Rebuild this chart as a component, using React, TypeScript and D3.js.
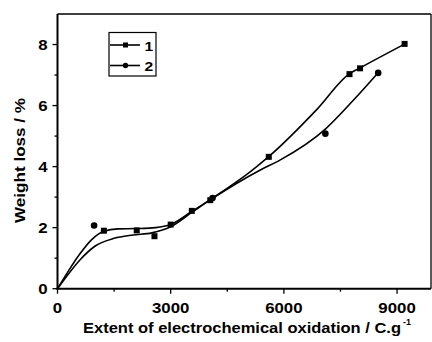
import React from "react";
import * as d3 from "d3";

const xTicks = [0, 3000, 6000, 9000];
const xMinorTicks = [1500, 4500, 7500];
const yTicks = [0, 2, 4, 6, 8];
const yMinorTicks = [1, 3, 5, 7];

const series1X = [1230, 2100, 2570, 3000, 3560, 4050, 5600, 7740, 8020, 9200];
const series1Y = [1.9, 1.91, 1.72, 2.1, 2.55, 2.9, 4.32, 7.03, 7.22, 8.02];
const series2X = [970, 4110, 7100, 8500];
const series2Y = [2.07, 2.97, 5.08, 7.07];

const fit1X = [0, 300, 600, 900, 1230, 1600, 2100, 2600, 3000, 3560, 4050, 5140, 5620, 6864, 7735, 8015, 9210];
const fit1Y = [0, 0.6, 1.15, 1.6, 1.88, 1.96, 1.97, 2.0, 2.1, 2.53, 2.92, 3.86, 4.35, 5.86, 7.04, 7.23, 8.02];
const fit2X = [0, 300, 600, 1000, 1500, 2000, 2500, 3000, 3560, 4100, 5376, 5907, 7100, 7853, 8500];
const fit2Y = [0, 0.5, 0.95, 1.4, 1.65, 1.76, 1.83, 2.03, 2.5, 2.95, 3.89, 4.22, 5.23, 6.19, 7.08];

const legendLabels = ["1", "2"];
const yLabel = "Weight loss / %";
const xLabel = "Extent of electrochemical oxidation / C.g";

export default function App() {
  const left = 57.5, right = 431, top = 14, bottom = 288.7;
  const x = d3.scaleLinear().domain([0, 9900]).range([left, right]);
  const y = d3.scaleLinear().domain([0, 9]).range([bottom, top]);
  const line = d3
    .line<[number, number]>()
    .x((d) => x(d[0]))
    .y((d) => y(d[1]))
    .curve(d3.curveMonotoneX);
  const f1 = fit1X.map((v, i) => [v, fit1Y[i]] as [number, number]);
  const f2 = fit2X.map((v, i) => [v, fit2Y[i]] as [number, number]);
  const font = "'Liberation Sans', Arial, sans-serif";
  return (
    <svg
      width={432}
      height={342}
      style={{ position: "absolute", left: 0, top: 0, background: "#fff" }}
      fontFamily={font}
    >
      <rect x={0} y={0} width={432} height={342} fill="#fff" />
      {/* frame */}
      <line x1={left} x2={right} y1={top} y2={top} stroke="#000" strokeWidth={1.3} />
      <line x1={right} x2={right} y1={top} y2={bottom} stroke="#000" strokeWidth={1.3} />
      <line x1={left} x2={left} y1={top} y2={bottom + 1} stroke="#000" strokeWidth={2} />
      <line x1={left - 1} x2={right} y1={bottom} y2={bottom} stroke="#000" strokeWidth={2} />
      {/* x ticks */}
      {xTicks.map((t) => (
        <g key={"xt" + t}>
          <line x1={x(t)} x2={x(t)} y1={bottom} y2={bottom + 5} stroke="#000" strokeWidth={1.3} />
          <text
            transform={`translate(${x(t)}, ${bottom + 24.5}) scale(1.2, 1)`}
            textAnchor="middle"
            fontSize={14}
            fontWeight="bold"
          >
            {t}
          </text>
        </g>
      ))}
      {xMinorTicks.map((t) => (
        <line key={"xm" + t} x1={x(t)} x2={x(t)} y1={bottom} y2={bottom + 3} stroke="#000" strokeWidth={1.3} />
      ))}
      {/* y ticks */}
      {yTicks.map((t) => (
        <g key={"yt" + t}>
          <line x1={left - 5} x2={left} y1={y(t)} y2={y(t)} stroke="#000" strokeWidth={1.3} />
          <text
            transform={`translate(${left - 10}, ${y(t) + 5.5}) scale(1.2, 1)`}
            textAnchor="end"
            fontSize={14}
            fontWeight="bold"
          >
            {t}
          </text>
        </g>
      ))}
      {yMinorTicks.map((t) => (
        <line key={"ym" + t} x1={left - 3} x2={left} y1={y(t)} y2={y(t)} stroke="#000" strokeWidth={1.3} />
      ))}
      {/* curves */}
      <path d={line(f1) || ""} fill="none" stroke="#000" strokeWidth={1.6} />
      <path d={line(f2) || ""} fill="none" stroke="#000" strokeWidth={1.6} />
      {/* markers */}
      {series1X.map((v, i) => (
        <rect key={"s1" + i} x={x(v) - 3} y={y(series1Y[i]) - 3} width={6} height={6} fill="#000" />
      ))}
      {series2X.map((v, i) => (
        <circle key={"s2" + i} cx={x(v)} cy={y(series2Y[i])} r={3.3} fill="#000" />
      ))}
      {/* legend */}
      <rect x={109} y={32.5} width={47} height={43.5} fill="none" stroke="#000" strokeWidth={1.2} />
      {legendLabels.map((lab, i) => {
        const ly = 45 + i * 20.5;
        return (
          <g key={"lg" + i}>
            <line x1={110} x2={140} y1={ly} y2={ly} stroke="#000" strokeWidth={1.6} />
            {i === 0 ? (
              <rect x={123} y={ly - 2.5} width={5} height={5} fill="#000" />
            ) : (
              <circle cx={125.5} cy={ly} r={2.7} fill="#000" />
            )}
            <text transform={`translate(144.5, ${ly + 5.7}) scale(1.2, 1)`} fontSize={13} fontWeight="bold">
              {lab}
            </text>
          </g>
        );
      })}
      {/* axis labels */}
      <text
        transform={`translate(24.5, 160.5) rotate(-90)`}
        textAnchor="middle"
        fontSize={14}
        fontWeight="bold"
        textLength={125}
        lengthAdjust="spacingAndGlyphs"
      >
        {yLabel}
      </text>
      <text
        x={83}
        y={332.5}
        fontSize={14}
        fontWeight="bold"
        textLength={318}
        lengthAdjust="spacingAndGlyphs"
      >
        {xLabel}
      </text>
      <text x={403} y={325} fontSize={9} fontWeight="bold">
        -1
      </text>
    </svg>
  );
}
